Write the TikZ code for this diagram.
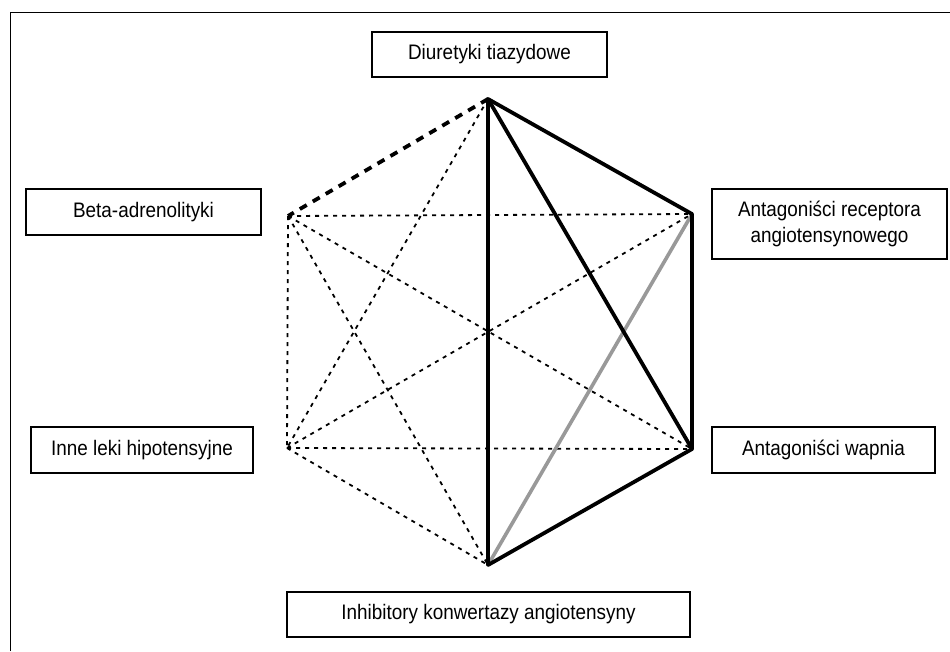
\documentclass[tikz,border=0pt]{standalone}
\usepackage{fontspec}
\setmainfont{Liberation Sans}[FakeStretch=0.9]
\begin{document}
\begin{tikzpicture}[x=1pt,y=-1pt,
  lbl/.style={draw, line width=1.2pt, inner sep=0pt, align=center, font=\fontsize{21}{26}\selectfont},
  strong/.style={line width=3.8pt, line cap=round, line join=round},
  greyline/.style={line width=3.6pt, draw=black!40},
  thickdash/.style={line width=3.8pt, dash pattern=on 8pt off 7pt},
  thindash/.style={line width=1.8pt, dash pattern=on 4pt off 5pt}]
\useasboundingbox (0,0) rectangle (950,651);
% frame (cropped)
\draw[line width=1pt] (10.5,651) -- (10.5,12.5) -- (950,12.5);
% labels
\node[lbl, minimum width=235, minimum height=45] (diu) at (489.5,54.5) {Diuretyki tiazydowe};
\node[lbl, minimum width=235, minimum height=46] (beta) at (143.5,212) {Beta-adrenolityki};
\node[lbl, minimum width=235, minimum height=70] (arb) at (829.5,224) {Antagoniści receptora\\angiotensynowego};
\node[lbl, minimum width=222, minimum height=46] (inne) at (142,450) {Inne leki hipotensyjne};
\node[lbl, minimum width=223, minimum height=46] (ca) at (823.5,450) {Antagoniści wapnia};
\node[lbl, minimum width=403, minimum height=45] (ace) at (488.5,614.5) {Inhibitory konwertazy angiotensyny};
% vertices
\coordinate (T) at (488,99);
\coordinate (UR) at (692,214);
\coordinate (LR) at (692,449);
\coordinate (B) at (488,565);
\coordinate (LL) at (287,448);
\coordinate (UL) at (288,216);
% thin dashed
\draw[thindash] (T) -- (LL);
\draw[thindash] (UL) -- (UR);
\draw[thindash] (UL) -- (LR);
\draw[thindash] (UL) -- (LL);
\draw[thindash] (UL) -- (B);
\draw[thindash] (LL) -- (UR);
\draw[thindash] (LL) -- (LR);
\draw[thindash] (LL) -- (B);
% thick dashed
\draw[thickdash] (T) -- (UL);
% grey
\draw[greyline] (UR) -- (B);
% solid
\draw[strong] (B) -- (T) -- (UR) -- (LR) -- (B);
\draw[strong] (T) -- (LR);
\end{tikzpicture}
\end{document}
